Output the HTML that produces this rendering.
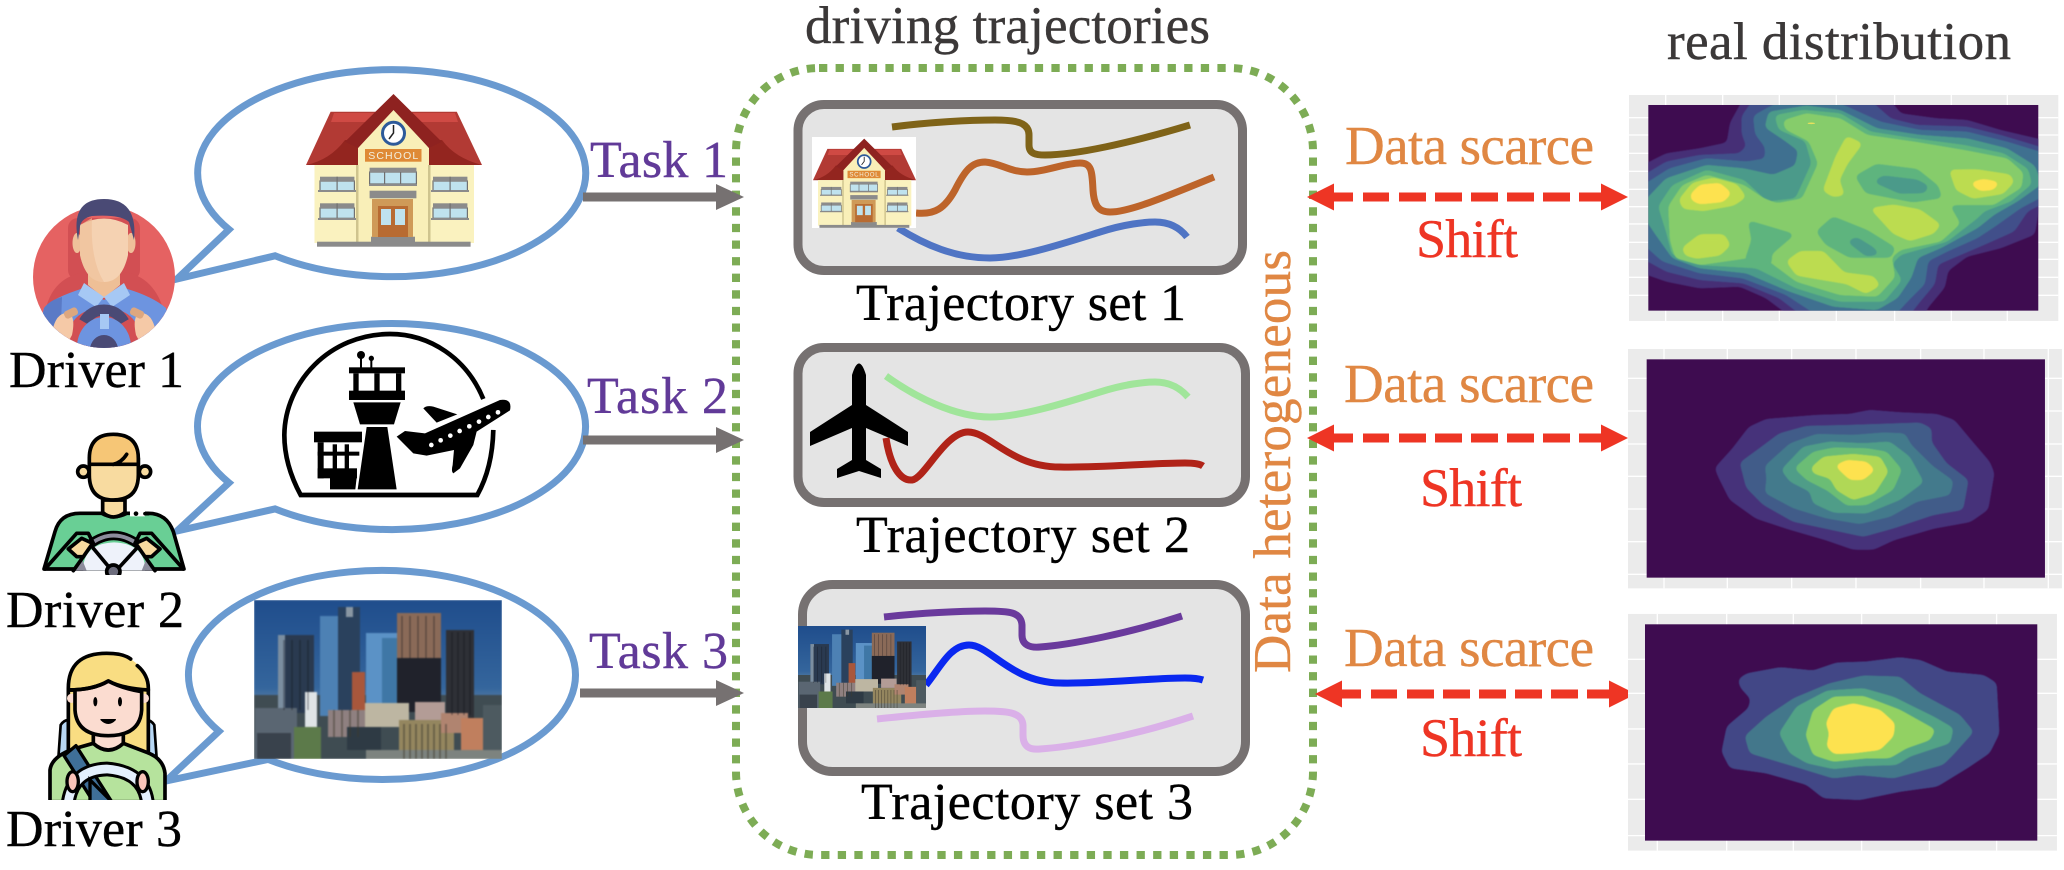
<!DOCTYPE html>
<html><head><meta charset="utf-8"><style>
html,body{margin:0;padding:0;background:#fff}
svg{display:block}
text{font-family:"Liberation Serif","Times New Roman",serif}
.t{font-size:52px;fill:#000;stroke:#000;stroke-width:.4}
.k{font-size:52px;fill:#613a98;stroke:#613a98;stroke-width:.4}
.h{font-size:53px;fill:#3b3838;stroke:#3b3838;stroke-width:.4}
.d{font-size:55px;fill:#e08743;stroke:#e08743;stroke-width:.4}
.s{font-size:54px;fill:#ee3524;stroke:#ee3524;stroke-width:.4}
.bub{fill:#fff;stroke:#6a9ad0;stroke-width:7;stroke-linejoin:miter}
.box{fill:#e4e4e4;stroke:#767171;stroke-width:9}
.tr{fill:none;stroke-width:7}
.av{stroke:#000;stroke-width:11;stroke-linejoin:round;stroke-linecap:round}
.m polygon{stroke-linejoin:round;stroke-width:10;filter:url(#goo)}
</style></head><body>
<svg xmlns="http://www.w3.org/2000/svg" width="2064" height="870" viewBox="0 0 2064 870">
<defs>
<filter id="goo" x="-15%" y="-15%" width="130%" height="130%" color-interpolation-filters="sRGB"><feGaussianBlur stdDeviation="8"/><feColorMatrix type="matrix" values="1 0 0 0 0 0 1 0 0 0 0 0 1 0 0 0 0 0 20 -9"/></filter>
<filter id="bl" x="-5%" y="-5%" width="110%" height="110%" color-interpolation-filters="sRGB"><feGaussianBlur stdDeviation="1.5"/></filter>
<filter id="sf" x="-2%" y="-2%" width="104%" height="104%" color-interpolation-filters="sRGB"><feGaussianBlur stdDeviation="0.7"/></filter>
<clipPath id="c1"><rect x="145" y="315" width="1170" height="617"/></clipPath>
<clipPath id="c2"><rect x="140" y="58" width="1195" height="655"/></clipPath>
<clipPath id="c3"><rect x="135" y="853" width="1177" height="649"/></clipPath>
<clipPath id="ca"><circle cx="104" cy="277" r="71"/></clipPath>
<clipPath id="cb"><rect x="0" y="-20" width="510" height="470"/></clipPath>
<clipPath id="cd"><rect x="0" y="0" width="405" height="465"/></clipPath>
<clipPath id="cc"><rect width="248" height="159"/></clipPath>
<linearGradient id="sky" x1="0" y1="0" x2="0" y2="1"><stop offset="0" stop-color="#1f4d8c"/><stop offset=".55" stop-color="#34659c"/><stop offset=".72" stop-color="#6f8ea8"/></linearGradient>

<symbol id="school" viewBox="306 93 176 154" preserveAspectRatio="none">
<polygon points="330.6,111.7 456.8,111.7 482,165 306,165" fill="#b23a34"/>
<polygon points="334,113 455,113 458,122 331,122" fill="#cf4a44"/>
<path d="M306 165 Q330 160 345 140 L442 140 Q455 158 482 165Z" fill="#93251f"/>
<rect x="314.5" y="165" width="159.500" height="78" fill="#faf2bf"/>
<polygon points="358,148 393.500,108 429,148 429,243 358,243" fill="#f9efb8"/>
<rect x="356" y="165" width="2.500" height="78" fill="#cfc48e"/><rect x="428" y="165" width="2.500" height="78" fill="#cfc48e"/>
<polygon points="393.500,94 441.700,141.700 429,148 393.500,110 358,148 345,141.700" fill="#8e2220"/>
<ellipse cx="393.500" cy="133.300" rx="11" ry="11" fill="#fff" stroke="#2d5a9a" stroke-width="3"/>
<path d="M393.500 125V133L389 139" fill="none" stroke="#222" stroke-width="1.500"/>
<rect x="365" y="149" width="56.500" height="12.700" fill="#df8a36"/>
<text x="393.200" y="159" text-anchor="middle" font-size="10.500" fill="#f3f0e0" textLength="50" lengthAdjust="spacing" style="font-family:'Liberation Sans',sans-serif">SCHOOL</text>
<g fill="#bfe2ee" stroke="#707070" stroke-width="1.200">
<rect x="369.600" y="172" width="46.800" height="12"/>
<rect x="320" y="181" width="34.400" height="9.700"/><rect x="433" y="181" width="34.400" height="9.700"/>
<rect x="320" y="208" width="34.400" height="10.300"/><rect x="433" y="208" width="34.400" height="10.300"/>
</g>
<g fill="#8b8b8b">
<rect x="369.600" y="167.700" width="46.800" height="5"/><rect x="320" y="176.700" width="34.400" height="5"/><rect x="433" y="176.700" width="34.400" height="5"/>
<rect x="320" y="203.300" width="34.400" height="5"/><rect x="433" y="203.300" width="34.400" height="5"/>
<rect x="369.600" y="190.700" width="46.800" height="7.600"/>
<rect x="369" y="184" width="48" height="2"/><rect x="318" y="190" width="38" height="2"/><rect x="431" y="190" width="38" height="2"/><rect x="318" y="218" width="38" height="2"/><rect x="431" y="218" width="38" height="2"/>
<rect x="371" y="236.700" width="44" height="6"/>
<rect x="317" y="241.700" width="153.600" height="5"/>
</g>
<g fill="#707070"><rect x="384" y="172" width="1.200" height="12"/><rect x="400" y="172" width="1.200" height="12"/><rect x="336.500" y="176.700" width="1.200" height="14"/><rect x="449.500" y="176.700" width="1.200" height="14"/><rect x="336.500" y="203.300" width="1.200" height="15"/><rect x="449.500" y="203.300" width="1.200" height="15"/></g>
<rect x="372" y="199" width="41" height="38" fill="#cf9a58"/>
<rect x="378" y="206" width="30" height="31" fill="#b86b32"/>
<rect x="381" y="209" width="10" height="16" fill="#bfe2ee"/><rect x="395" y="209" width="10" height="16" fill="#bfe2ee"/>
</symbol>

<symbol id="city" viewBox="0 0 248 159" preserveAspectRatio="none">
<g clip-path="url(#cc)"><g filter="url(#sf)">
<rect width="248" height="159" fill="url(#sky)"/>
<rect x="0" y="95" width="248" height="64" fill="#3f4c52"/>
<rect x="24" y="35" width="36" height="78" fill="#2a3a50"/><rect x="24" y="35" width="7" height="78" fill="#7b8ea0"/>
<rect x="66" y="16" width="20" height="100" fill="#4d81b4"/><rect x="84" y="7" width="22" height="106" fill="#2a415d"/><rect x="92" y="7" width="7" height="10" fill="#8a97a3"/>
<rect x="112" y="33" width="33" height="72" fill="#5b92c6"/><rect x="128" y="38" width="17" height="66" fill="#3f77a6"/>
<rect x="143" y="13" width="44" height="56" fill="#8a6a58"/><rect x="143" y="58" width="44" height="54" fill="#20222b"/>
<rect x="192" y="30" width="28" height="88" fill="#2e3036"/>
<rect x="98" y="72" width="13" height="40" fill="#a8573c"/>
<rect x="51" y="92" width="12" height="36" fill="#dfe4e6"/>
<rect x="1" y="108" width="42" height="51" fill="#5a6672"/>
<rect x="3" y="133" width="34" height="26" fill="#39424c"/>
<rect x="40" y="127" width="27" height="32" fill="#5c7a4a"/>
<rect x="74" y="110" width="39" height="27" fill="#8f8080"/><rect x="111" y="103" width="44" height="24" fill="#bdb6a2"/>
<rect x="93" y="127" width="34" height="23" fill="#2e3a44"/>
<rect x="145" y="120" width="55" height="39" fill="#94865f"/>
<rect x="161" y="102" width="30" height="18" fill="#b39c96"/>
<rect x="187" y="113" width="27" height="20" fill="#b08470"/>
<rect x="207" y="118" width="22" height="34" fill="#c07f5e"/>
<rect x="229" y="105" width="19" height="45" fill="#4d5a60"/>
<rect x="112" y="150" width="136" height="9" fill="#7d837f"/>
<path d="M150 124V159M156 124V159M162 124V159M168 124V159M174 124V159M180 124V159M186 124V159M192 124V159M80 110V137M88 110V137M96 110V137M104 110V137" stroke="#3e3a2e" stroke-width="1.500" opacity=".6"/>
<path d="M30 40V110M38 40V110M46 40V110M54 40V110M198 32V115M204 32V115M210 32V115M216 32V115M148 16V58M156 16V58M164 16V58M172 16V58M180 16V58" stroke="#101218" stroke-width="1.200" opacity=".45"/>
</g></g>
</symbol>
</defs>

<!-- dotted container -->
<rect x="736" y="68" width="577" height="787" rx="83" ry="83" fill="none" stroke="#7dac55" stroke-width="8" stroke-dasharray="8.300 8.300"/>

<!-- bubbles -->
<path class="bub" d="M229 229.500 A194 103.500 0 1 1 275 255.800 L177 279 Z"/>
<path class="bub" d="M229 482.800 A194 103 0 1 1 275 508.900 L177 531 Z"/>
<path class="bub" d="M219 731.300 A193.500 104.500 0 1 1 268 759.400 L166 781 Z"/>

<use href="#school" x="306" y="93" width="176" height="154"/>

<!-- airport -->
<g transform="translate(270,325) scale(.3333)">
<path d="M640 222C590 100 480 27 360 27C180 27 45 170 43 330C43 400 65 460 92 510H622C650 460 668 400 670 315" fill="none" stroke="#000" stroke-width="14"/>
<rect x="237" y="127" width="168" height="18"/><rect x="250" y="145" width="16" height="55"/><rect x="313" y="145" width="16" height="55"/><rect x="378" y="145" width="16" height="55"/>
<rect x="237" y="197" width="168" height="28"/>
<polygon points="250,232 392,232 372,298 270,298"/><polygon points="290,306 352,306 380,493 263,493"/>
<circle cx="273" cy="90" r="12"/><circle cx="304" cy="100" r="8"/><rect x="270" y="98" width="6" height="30"/><rect x="301" y="105" width="6" height="23"/>
<rect x="132" y="320" width="144" height="32"/>
<rect x="143" y="352" width="18" height="108"/><rect x="143" y="380" width="125" height="12"/><rect x="188" y="358" width="13" height="75"/><rect x="224" y="358" width="13" height="75"/>
<rect x="143" y="430" width="118" height="30"/><polygon points="180,458 260,458 256,493 180,493"/>
<path d="M380 335L405 318L465 325L690 225Q728 220 720 256L620 320L610 360L570 430L550 445Q543 440 548 420L552 375L470 392L430 385Z"/>
<path d="M460 250Q470 240 490 245L562 268L500 293Z"/>
<g fill="#fff"><circle cx="484" cy="360" r="7"/><circle cx="512" cy="346" r="7"/><circle cx="541" cy="332" r="7"/><circle cx="569" cy="318" r="7"/><circle cx="598" cy="304" r="7"/><circle cx="627" cy="290" r="7"/><circle cx="655" cy="276" r="7"/><circle cx="684" cy="262" r="7"/></g>
</g>

<use href="#city" x="254" y="600" width="248" height="159"/>

<!-- driver 1 -->
<circle cx="104" cy="277" r="71" fill="#e56262"/>
<g clip-path="url(#ca)">
<rect x="68" y="218" width="72" height="62" rx="10" fill="#d24f53"/>
<path d="M44 320Q48 278 85 272H125Q158 278 166 320V350H44Z" fill="#d24f53"/>
<path d="M35 350L44 308Q52 298 84 288L104 300L124 288Q152 296 166 308L175 350Z" fill="#6d94e0"/>
<path d="M35 350L44 308Q50 300 62 297L60 350Z" fill="#5a7ac6"/>
<path d="M88 262H120V285L104 298L88 285Z" fill="#eebf96"/>
<polygon points="84,283 104,297 96,307 78,295" fill="#a6c8f4"/><polygon points="124,283 104,297 112,307 130,295" fill="#a6c8f4"/>
<path d="M66 350Q66 308 104 308Q142 308 142 350Z" fill="#d24f53"/>
<path d="M84 322Q91 310 104 310Q117 310 124 322" fill="none" stroke="#4a4a75" stroke-width="11"/>
<ellipse cx="104" cy="347" rx="27" ry="30" fill="#6d94e0"/>
<rect x="100" y="314" width="9" height="15" fill="#a6c8f4"/>
<ellipse cx="104" cy="350" rx="14" ry="15" fill="#4a4a75"/>
<path d="M52 332Q56 312 68 313Q76 316 72 335L64 350Z" fill="#f5c9a7"/><path d="M156 332Q152 312 140 313Q132 316 136 335L144 350Z" fill="#f5c9a7"/>
<rect x="64" y="309" width="14" height="8" rx="3" fill="#dda77f" transform="rotate(-25 71 313)"/><rect x="130" y="309" width="14" height="8" rx="3" fill="#dda77f" transform="rotate(25 137 313)"/>
</g>
<ellipse cx="77" cy="243" rx="4.500" ry="10" fill="#efc09a"/><ellipse cx="131" cy="243" rx="4.500" ry="10" fill="#efc09a"/>
<path d="M80 225Q104 212 128 225V255Q122 282 104 282Q86 282 80 255Z" fill="#f5d2b2"/>
<path d="M92 218Q90 260 104 282Q86 282 80 255V225Z" fill="#efc09a" opacity=".7"/>
<path d="M78 240Q70 199 104 199Q138 199 134 240L129 222Q120 214 92 216Q82 218 80 226Z" fill="#4a4a75"/>

<!-- driver 2 -->
<g transform="translate(30,425) scale(.3333)">
<g clip-path="url(#cb)">
<path class="av" d="M42 432L75 320Q90 265 150 265H215Q250 285 290 265H355Q410 265 430 320L462 432Z" fill="#69cf95"/>
<path d="M160 437V420Q170 355 252 352Q335 355 345 420V437Z" fill="#eef2fa"/>
<path d="M180 358Q250 305 325 358" fill="none" stroke="#000" stroke-width="28"/>
<path d="M180 358Q250 305 325 358" fill="none" stroke="#8c8c9c" stroke-width="12"/>
<path d="M155 400L125 437H170ZM350 400L380 437H335Z" fill="#8c8c9c"/>
<path class="av" d="M130 437L160 395M375 437L345 395M190 370L240 430M320 370L265 430" fill="none"/>
<circle cx="250" cy="440" r="20" fill="#6c6c7c" stroke="#000" stroke-width="11"/>
<path class="av" d="M45 432L140 325H175L190 355M460 432L365 325H330L315 355" fill="none"/>
<path class="av" d="M115 372L155 340L188 355L160 395L140 395Z" fill="#f8dba0"/>
<path class="av" d="M390 372L350 340L317 355L345 395L365 395Z" fill="#f8dba0"/>
<path class="av" d="M218 225V262Q250 290 285 262V225Z" fill="#f8dba0"/>
<circle cx="160" cy="140" r="17" fill="#f8dba0" stroke="#000" stroke-width="11"/>
<circle cx="345" cy="140" r="17" fill="#f8dba0" stroke="#000" stroke-width="11"/>
<path class="av" d="M178 100V150Q178 225 250 225Q325 225 325 150V100Z" fill="#f8dba0"/>
<path class="av" d="M178 118V100Q178 28 250 28Q325 28 325 100V118H270Q240 118 178 118Z" fill="#f6c676"/>
<path class="av" d="M250 118Q275 112 290 88" fill="none"/>
<path d="M300 266H345" stroke="#fff" stroke-width="16"/>
<circle cx="318" cy="266" r="7" fill="#000"/>
<path class="av" d="M345 266H355" fill="none"/>
</g></g>

<!-- driver 3 -->
<g transform="translate(40,645) scale(.3333)">
<g clip-path="url(#cd)">
<path d="M55 340L62 240Q72 225 85 225V340ZM350 340L343 240Q333 225 320 225V340Z" fill="#b8d8f5" stroke="#000" stroke-width="8"/>
<path d="M85 130Q85 25 200 25Q275 25 310 80L325 130V320H85Z" fill="#f9dd82"/>
<path class="av" d="M85 330V130Q85 25 200 25Q250 25 272 42M292 62Q325 90 325 130V320" fill="none"/>
<path class="av" d="M30 470V375Q35 335 100 312L160 295Q205 335 250 295L320 322Q370 340 375 385V470Z" fill="#b6e39d"/>
<path class="av" d="M160 265V295Q205 335 250 295V265Z" fill="#fbdcd0"/>
<circle cx="95" cy="160" r="14" fill="#fbdcd0"/><circle cx="313" cy="160" r="14" fill="#fbdcd0"/>
<path class="av" d="M105 138V195Q110 272 205 272Q300 272 305 195V140Q245 130 205 108Q160 135 85 135" fill="#fbdcd0"/>
<path class="av" d="M85 135Q160 135 205 108Q245 130 325 135" fill="none"/>
<ellipse cx="166" cy="170" rx="6" ry="14"/><ellipse cx="240" cy="170" rx="6" ry="14"/>
<path d="M183 224Q205 246 226 224Z" stroke="#000" stroke-width="4" stroke-linejoin="round"/>
<path d="M72 332L108 302L215 470H160Z" fill="#3f6f98" stroke="#000" stroke-width="10" stroke-linejoin="round"/>
<path d="M85 470Q100 375 200 372Q310 380 322 470" fill="none" stroke="#000" stroke-width="44"/>
<path d="M85 470Q100 375 200 372Q310 380 322 470" fill="none" stroke="#e4f0fd" stroke-width="26"/>
<path d="M150 405L215 470H150Z" fill="#3f6f98" stroke="#000" stroke-width="10"/>
<ellipse cx="98" cy="410" rx="17" ry="30" fill="#fbc4ba" stroke="#000" stroke-width="10"/>
<ellipse cx="308" cy="410" rx="17" ry="30" fill="#fbc4ba" stroke="#000" stroke-width="10"/>
</g></g>

<!-- left labels -->
<text class="t" x="9" y="387" textLength="175">Driver 1</text>
<text class="t" x="6" y="627" textLength="178">Driver 2</text>
<text class="t" x="6" y="846" textLength="176">Driver 3</text>
<text class="k" x="590" y="177" textLength="138">Task 1</text>
<text class="k" x="587" y="413" textLength="141">Task 2</text>
<text class="k" x="589" y="668" textLength="139">Task 3</text>

<!-- grey arrows -->
<g fill="#767171">
<rect x="583" y="192.500" width="134" height="9"/><polygon points="716,184 744,197 716,210"/>
<rect x="583" y="435.500" width="134" height="9"/><polygon points="716,427 744,440 716,453"/>
<rect x="580" y="688.500" width="137" height="9"/><polygon points="716,680 744,693 716,706"/>
</g>

<!-- title -->
<text class="h" x="805" y="43" textLength="405">driving trajectories</text>
<text class="h" x="1667" y="59" textLength="344">real distribution</text>

<!-- box 1 -->
<rect class="box" x="798" y="104.500" width="444.500" height="166" rx="26"/>
<path class="tr" stroke="#7f6318" d="M892 127C930 122 970 120 995 120C1015 120 1029 122 1029 135V145C1029 154 1036 155 1045 155C1075 155 1130 143 1190 125"/>
<path class="tr" stroke="#bd642a" d="M916 213C935 215 945 208 955 190C965 170 972 162 985 162C1000 163 1010 172 1027 172C1045 172 1065 163 1080 163C1092 163 1092 172 1093 190C1094 205 1098 212 1110 212C1130 212 1170 195 1214 177"/>
<path class="tr" stroke="#4f74c4" d="M898 228C925 245 955 258 990 258C1020 258 1065 243 1100 232C1125 224 1145 222 1155 222C1170 222 1180 228 1187 237"/>
<rect x="812" y="137" width="104" height="91" fill="#fff"/>
<use href="#school" x="813" y="138" width="103" height="90"/>
<text class="t" x="856" y="320" textLength="330">Trajectory set 1</text>

<!-- box 2 -->
<rect class="box" x="798" y="347.500" width="447.500" height="155" rx="26"/>
<path d="M852 375Q859 352 866 375V405L908 432V446L866 428V460L881 469V478L859 471L837 478V469L852 460V428L810 446V432L852 405Z"/>
<path class="tr" stroke="#a0e59a" d="M886 376C915 397 955 417 990 417C1020 417 1065 403 1100 392C1125 384 1145 382 1155 382C1170 382 1180 388 1188 397"/>
<path class="tr" stroke="#b02318" d="M886 438C890 465 900 481 912 480C925 478 945 432 968 432C990 432 1010 467 1060 467C1100 468 1150 463 1185 463C1195 463 1200 464 1203 466"/>
<text class="t" x="856" y="552" textLength="334">Trajectory set 2</text>

<!-- box 3 -->
<rect class="box" x="802.500" y="584.500" width="443" height="187" rx="30"/>
<path class="tr" stroke="#6a3a9c" d="M884 617C920 613 960 611 985 611C1010 611 1021 612 1022 625V635C1022 645 1030 648 1040 647C1070 645 1130 633 1182 616"/>
<path class="tr" stroke="#0a28f0" d="M926 685C940 668 950 645 969 645C990 645 1010 682 1060 683C1100 684 1150 678 1185 678C1195 678 1200 679 1203 680"/>
<path class="tr" stroke="#dab0e8" d="M877 719C915 715 960 711 985 711C1010 711 1022 713 1023 725V735C1023 747 1030 750 1040 749C1070 747 1130 737 1193 716"/>
<use href="#city" x="798" y="626" width="128" height="82"/>
<text class="t" x="861" y="819" textLength="332">Trajectory set 3</text>

<text class="h" style="fill:#e08743;stroke:#e08743" transform="translate(1290,673) rotate(-90)" textLength="423">Data heterogeneous</text>

<!-- red arrows -->
<g>
<path d="M1334 197H1353M1363 197H1389M1399 197H1426M1435 197H1462M1471 197H1498M1507 197H1534M1543 197H1570M1579 197H1602" stroke="#ee3524" stroke-width="9" fill="none"/>
<polygon points="1307,197 1334,183.500 1334,210.500" fill="#ee3524"/><polygon points="1628,197 1601,183.500 1601,210.500" fill="#ee3524"/>
</g>
<g transform="translate(0,241)">
<path d="M1334 197H1353M1363 197H1389M1399 197H1426M1435 197H1462M1471 197H1498M1507 197H1534M1543 197H1570M1579 197H1602" stroke="#ee3524" stroke-width="9" fill="none"/>
<polygon points="1307,197 1334,183.500 1334,210.500" fill="#ee3524"/><polygon points="1628,197 1601,183.500 1601,210.500" fill="#ee3524"/>
</g>
<g transform="translate(8,497)">
<path d="M1334 197H1353M1363 197H1389M1399 197H1426M1435 197H1462M1471 197H1498M1507 197H1534M1543 197H1570M1579 197H1602" stroke="#ee3524" stroke-width="9" fill="none"/>
<polygon points="1307,197 1334,183.500 1334,210.500" fill="#ee3524"/><polygon points="1628,197 1601,183.500 1601,210.500" fill="#ee3524"/>
</g>
<text class="d" x="1345" y="164" textLength="249">Data scarce</text>
<text class="d" x="1344" y="402" textLength="250">Data scarce</text>
<text class="d" x="1344" y="666" textLength="250">Data scarce</text>
<text class="s" x="1416" y="257" textLength="102">Shift</text>
<text class="s" x="1420" y="506" textLength="102">Shift</text>
<text class="s" x="1420" y="756" textLength="102">Shift</text>

<!-- heat map 1 -->
<g transform="translate(1600,0) scale(.3333)">
<rect x="87" y="285" width="1288" height="678" fill="#ebebeb"/>
<path d="M197 285V963M368 285V963M538 285V963M709 285V963M884 285V963M1054 285V963M1222 285V963M87 353H1375M87 405H1375M87 460H1375M87 514H1375M87 568H1375M87 620H1375M87 672H1375M87 727H1375M87 778H1375M87 832H1375M87 886H1375" stroke="#fff" stroke-width="4" fill="none"/>
<rect x="145" y="315" width="1170" height="617" fill="#3e0c50"/>
<g clip-path="url(#c1)"><g class="m" filter="url(#bl)">
<polygon fill="#462f76" stroke="#462f76" points="100,515 200,465 300,450 385,432 395,370 420,325 450,270 840,270 900,345 1010,360 1100,365 1200,395 1350,430 1365,600 1315,610 1300,700 1200,740 1100,765 1040,810 1030,860 980,920 950,980 620,980 500,890 420,855 300,860 200,840 100,805"/>
<polygon fill="#414f8a" stroke="#414f8a" points="100,550 200,490 300,470 420,465 445,440 430,400 430,350 480,280 780,280 870,360 950,380 1100,385 1200,410 1350,455 1360,590 1280,630 1240,690 1150,730 1080,760 1010,790 1000,850 950,910 900,975 650,975 540,890 430,845 300,835 200,810 100,755"/>
<polygon fill="#3f7090" stroke="#3f7090" points="100,580 210,510 320,480 440,490 500,480 500,440 470,400 465,350 510,325 600,285 730,320 840,370 960,395 1100,400 1220,430 1350,470 1355,570 1260,620 1190,670 1130,710 1040,750 980,780 970,850 920,900 860,965 690,965 560,880 430,830 300,815 190,780 100,700"/>
<polygon fill="#4b9a8a" stroke="#4b9a8a" points="120,625 200,540 320,500 430,510 520,530 590,500 600,450 560,420 500,380 510,340 620,322 720,335 830,390 960,410 1100,420 1220,450 1300,500 1320,550 1250,600 1180,640 1130,680 1020,740 950,770 930,830 890,890 830,925 700,915 570,870 440,815 300,800 220,770 170,700"/>
<polygon fill="#5eb47e" stroke="#5eb47e" points="180,620 220,560 320,515 430,545 500,610 590,600 640,490 620,420 540,385 530,350 610,335 720,345 810,400 940,420 1090,440 1210,465 1280,510 1290,550 1230,600 1150,630 1130,650 1040,720 900,760 870,790 900,840 850,900 720,900 590,860 470,800 300,790 220,760 205,700"/>
<polygon fill="#86cc6b" stroke="#86cc6b" points="210,620 250,560 320,530 430,560 490,600 530,615 610,600 660,490 630,420 560,385 555,365 620,345 720,360 800,410 940,430 1090,455 1220,480 1265,520 1260,560 1180,610 1080,610 1040,610 1075,670 1020,720 900,745 870,770 880,830 830,885 720,880 590,840 510,780 470,740 440,770 300,790 230,770 215,720"/>
<polygon fill="#5eb47e" stroke="#5eb47e" points="772,530 830,497 950,512 1010,560 1020,590 940,602 800,575"/>
<polygon fill="#5eb47e" stroke="#5eb47e" points="655,695 700,655 800,695 880,745 870,768 750,768 680,730"/>
<polygon fill="#5eb47e" stroke="#5eb47e" points="450,668 575,705 510,760 510,790 470,800 440,780 460,720"/>
<polygon fill="#4b9a8a" stroke="#4b9a8a" points="830,545 850,532 950,544 980,560 972,574 900,576"/>
<polygon fill="#4b9a8a" stroke="#4b9a8a" points="750,725 770,717 818,747 830,760 800,764"/>
<g fill="#bcdc50" stroke="#bcdc50">
<polygon points="242,600 280,553 340,538 408,557 432,590 400,612 310,628 252,622"/>
<polygon points="252,745 300,708 370,708 386,735 358,762 290,771 258,762"/>
<polygon points="674,570 712,470 742,414 781,432 738,490 713,540 728,582 700,586"/>
<polygon points="1054,514 1130,513 1228,528 1237,545 1207,577 1120,591 1072,567"/>
<polygon points="819,628 880,619 958,633 1016,675 998,697 930,718 882,697"/>
<polygon points="565,785 602,758 668,758 730,822 818,833 834,855 798,876 740,847 650,832 592,822"/>
</g>
<g fill="#fde24f" stroke="#fde24f">
<polygon points="276,585 302,559 358,554 388,580 368,601 300,608 279,598"/>
<polygon points="1119,551 1150,542 1191,550 1178,565 1141,568"/>
</g></g></g>
<ellipse cx="634" cy="370" rx="11" ry="2.500" fill="#e8e05c"/>
</g>

<!-- heat map 2 -->
<g transform="translate(1600,340) scale(.3333)">
<rect x="84" y="27" width="1302" height="718" fill="#ebebeb"/>
<path d="M192 27V745M382 27V745M575 27V745M768 27V745M962 27V745M1152 27V745M1345 27V745M84 115H1386M84 213H1386M84 312H1386M84 409H1386M84 507H1386M84 605H1386M84 703H1386" stroke="#fff" stroke-width="4" fill="none"/>
<rect x="140" y="58" width="1195" height="655" fill="#3e0c50"/>
<g clip-path="url(#c2)"><g class="m" filter="url(#bl)">
<polygon fill="#46327a" stroke="#46327a" points="350,385 400,330 450,265 500,242 650,230 750,227 810,215 900,222 1010,227 1060,244 1110,304 1165,368 1178,400 1160,506 1110,541 1000,561 880,596 820,624 760,624 680,596 560,561 470,531 393,476 360,410"/>
<polygon fill="#415c89" stroke="#415c89" points="425,370 480,330 540,285 620,263 750,260 840,257 960,253 990,268 990,308 1036,373 1100,422 1085,505 1000,520 880,560 790,585 720,570 580,540 492,490 443,440"/>
<polygon fill="#437a8c" stroke="#437a8c" points="500,380 572,315 650,287 760,290 850,283 912,285 930,318 996,383 1055,425 1046,461 950,480 870,525 780,547 680,530 582,500 500,456 505,415"/>
<polygon fill="#4f9d88" stroke="#4f9d88" points="550,390 612,325 690,310 790,315 868,310 925,353 965,425 898,475 800,515 702,513 643,486 634,452 573,421"/>
<polygon fill="#6bbd75" stroke="#6bbd75" points="590,385 642,340 700,328 800,330 858,340 900,390 876,446 800,490 742,492 684,447 623,416"/>
<polygon fill="#b0d856" stroke="#b0d856" points="638,385 672,355 760,347 838,355 860,395 821,456 760,475 713,447 694,412 643,396"/>
<polygon fill="#fde24f" stroke="#fde24f" points="713,378 742,365 798,370 818,390 788,415 752,415 728,393"/>
</g></g>
</g>

<!-- heat map 3 -->
<g transform="translate(1600,340) scale(.3333)">
<rect x="84" y="822" width="1287" height="710" fill="#ebebeb"/>
<path d="M172 822V1532M380 822V1532M580 822V1532M785 822V1532M988 822V1532M1190 822V1532M84 958H1371M84 1060H1371M84 1167H1371M84 1272H1371M84 1378H1371M84 1487H1371" stroke="#fff" stroke-width="4" fill="none"/>
<rect x="135" y="853" width="1177" height="649" fill="#3e0c50"/>
<g clip-path="url(#c3)"><g class="m" filter="url(#bl)">
<polygon fill="#424786" stroke="#424786" points="420,1020 442,1005 540,987 640,997 710,973 800,970 900,957 960,965 1040,1000 1150,1010 1185,1032 1190,1120 1193,1180 1165,1236 1100,1280 1010,1335 900,1350 780,1375 672,1370 622,1330 500,1295 393,1280 370,1235 385,1162 450,1107 457,1075 425,1040"/>
<polygon fill="#43778b" stroke="#43778b" points="440,1190 502,1134 582,1080 690,1035 790,1012 898,1015 957,1064 1076,1128 1115,1175 1056,1241 1027,1270 880,1310 780,1300 700,1310 602,1280 453,1236"/>
<polygon fill="#52a286" stroke="#52a286" points="543,1180 593,1104 682,1057 790,1050 878,1075 998,1134 1055,1167 1046,1206 928,1245 888,1270 790,1273 700,1282 622,1265 573,1236"/>
<polygon fill="#92d163" stroke="#92d163" points="622,1185 644,1113 702,1075 790,1073 898,1114 1000,1171 987,1196 918,1220 868,1250 800,1250 700,1260 643,1241"/>
<polygon fill="#fde24f" stroke="#fde24f" points="683,1150 703,1110 760,1095 838,1114 880,1152 876,1187 838,1225 760,1235 703,1237 685,1218 693,1180"/>
</g></g>
</g>
</svg>
</body></html>
